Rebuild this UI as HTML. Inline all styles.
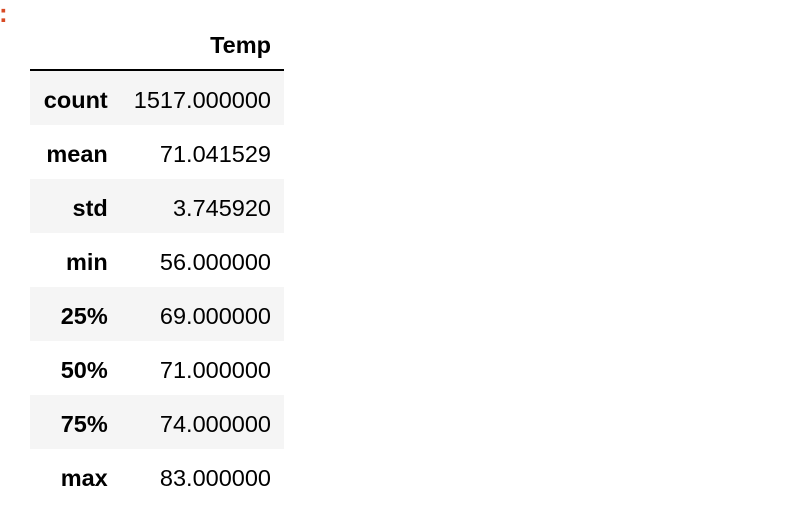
<!DOCTYPE html>
<html><head><meta charset="utf-8"><style>
body{margin:0;width:812px;height:518px;background:#fff;font-family:"Liberation Sans",Arial,sans-serif;position:relative;overflow:hidden}
.colon{position:absolute;left:-1px;top:-2px;color:#d84a24;font-weight:bold;font-size:26px}
table{position:absolute;left:30px;top:21px;border-collapse:collapse;width:254px;font-size:23.5px;color:#000}
th,td{text-align:right;padding:0 13px;height:54px;white-space:nowrap}
tbody th span,tbody td span{position:relative;top:2px}
thead th{height:48px;border-bottom:2px solid #000}
tbody tr:nth-child(odd){background:#f5f5f5}
tbody th{width:65px}
</style></head><body>
<div class="colon">:</div>
<table>
<thead><tr><th></th><th>Temp</th></tr></thead>
<tbody>
<tr><th><span>count</span></th><td><span>1517.000000</span></td></tr>
<tr><th><span>mean</span></th><td><span>71.041529</span></td></tr>
<tr><th><span>std</span></th><td><span>3.745920</span></td></tr>
<tr><th><span>min</span></th><td><span>56.000000</span></td></tr>
<tr><th><span>25%</span></th><td><span>69.000000</span></td></tr>
<tr><th><span>50%</span></th><td><span>71.000000</span></td></tr>
<tr><th><span>75%</span></th><td><span>74.000000</span></td></tr>
<tr><th><span>max</span></th><td><span>83.000000</span></td></tr>
</tbody></table>
</body></html>
